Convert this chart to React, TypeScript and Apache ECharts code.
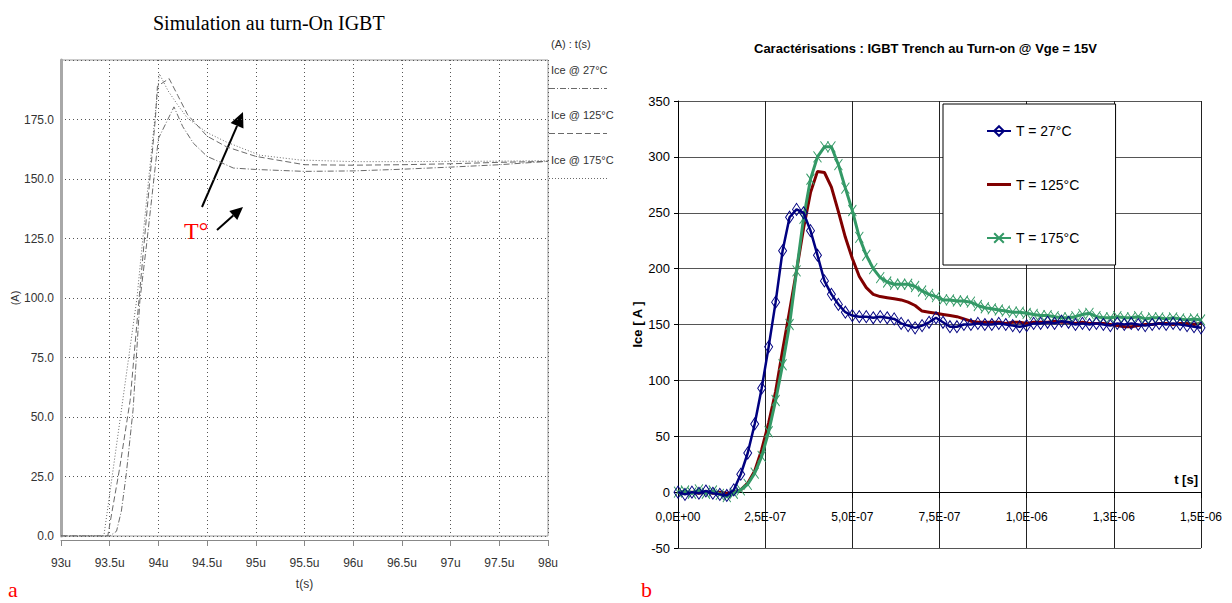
import React, { useEffect, useRef } from "react";
import * as echarts from "echarts";

// ---------- Left chart (a): simulation ----------
const simSeriesNames = ["Ice @ 27°C", "Ice @ 125°C", "Ice @ 175°C"];
const simXTicks = ["93u", "93.5u", "94u", "94.5u", "95u", "95.5u", "96u", "96.5u", "97u", "97.5u", "98u"];
const simYTicks = ["0.0", "25.0", "50.0", "75.0", "100.0", "125.0", "150.0", "175.0"];

const simT27 = [93, 93.5, 93.57, 93.62, 93.67, 93.74, 93.81, 93.88, 94.0, 94.16, 94.25, 94.36, 94.5, 94.77, 95.0, 95.5, 96.0, 96.5, 97.0, 97.5, 98.0];
const simI27 = [0, 0, 2, 10.5, 26, 53, 99, 123, 167, 180.3, 172, 165, 159.5, 154.6, 154, 153.2, 153.4, 154.1, 155, 156, 157.4];

const simT125 = [93, 93.48, 93.6, 93.71, 93.8, 93.97, 93.99, 94.11, 94.2, 94.3, 94.5, 94.7, 95.0, 95.5, 96.0, 96.5, 97.0, 97.5, 98.0];
const simI125 = [0, 0, 28, 57, 99, 176, 189, 192.2, 185, 177, 168, 163.5, 159.5, 156, 155.8, 156, 156.4, 157, 157.4];

const simT175 = [93, 93.44, 93.6, 93.78, 93.9, 94.01, 94.1, 94.2, 94.3, 94.5, 94.7, 95.04, 95.45, 96.0, 96.5, 97.0, 97.5, 98.0];
const simI175 = [0, 0, 47, 100, 150, 194.2, 187, 181, 175.5, 169.5, 165.5, 160, 158, 157.3, 157.3, 157.4, 157.5, 157.7];

// ---------- Right chart (b): measurements ----------
const mesNames = ["T = 27°C", "T = 125°C", "T = 175°C"];
const mesXTicks = ["0,0E+00", "2,5E-07", "5,0E-07", "7,5E-07", "1,0E-06", "1,3E-06", "1,5E-06"];
// time in ns
const mesTimeNs = [
  0, 20, 40, 60, 80, 100, 120, 140, 160, 180,
  200, 220, 240, 260, 280, 300, 320, 340, 360, 380,
  400, 420, 440, 460, 480, 500, 520, 540, 560, 580,
  600, 620, 640, 660, 680, 700, 720, 740, 760, 780,
  800, 820, 840, 860, 880, 900, 920, 940, 960, 980,
  1000, 1020, 1040, 1060, 1080, 1100, 1120, 1140, 1160, 1180,
  1200, 1220, 1240, 1260, 1280, 1300, 1320, 1340, 1360, 1380,
  1400, 1420, 1440, 1460, 1480, 1500,
];
const mesI27 = [
  0, -2, 0, -1, 1, -1, -2, -3, 2, 16,
  35, 61, 93, 130, 170, 216, 246, 253, 250, 234,
  212, 189, 177, 168, 161, 158, 157, 157, 156, 157,
  156, 155, 151, 149, 147, 149, 152, 156, 152, 148,
  148, 150, 150, 151, 150, 150, 151, 150, 149, 148,
  149, 151, 151, 152, 151, 153, 152, 150, 151, 150,
  151, 150, 149, 151, 150, 151, 150, 149, 150, 151,
  150, 151, 150, 149, 148, 147,
];
const mesI125 = [
  0, -1, 0, -1, 0, -1, 0, -1, 0, 2,
  8, 19, 38, 62, 90, 127, 162, 198, 236, 268,
  287, 286, 273, 251, 228, 209, 193, 183, 177, 175,
  174, 173, 172, 170, 167, 162, 161, 160, 159, 158,
  157, 155, 153, 152, 152, 152, 152, 151, 152, 152,
  151, 152, 152, 152, 153, 152, 152, 151, 152, 151,
  151, 151, 150, 149, 148, 148, 149, 150, 150, 151,
  151, 150, 151, 151, 150, 151,
];
const mesI175 = [
  0, 1, -1, 2, -1, 1, -2, -4, -1, 2,
  7, 17, 32, 54, 82, 114, 150, 198, 245, 280,
  300, 309, 309, 293, 272, 252, 228, 212, 200, 192,
  188, 186, 186, 186, 184, 180, 177, 175, 172, 172,
  171, 171, 170, 167, 165, 164, 163, 162, 161, 161,
  160, 159, 158, 158, 157, 156, 156, 157, 159, 160,
  157, 156, 156, 157, 156, 156, 157, 155, 156, 156,
  155, 156, 155, 154, 155, 154,
];

const SANS = "'Liberation Sans Narrow', 'Liberation Sans', Arial, sans-serif";
const SERIF = "'Liberation Serif', 'Times New Roman', serif";

function arrow(x1: number, y1: number, x2: number, y2: number, len: number, half: number) {
  const dx = x2 - x1;
  const dy = y2 - y1;
  const d = Math.sqrt(dx * dx + dy * dy);
  const ux = dx / d;
  const uy = dy / d;
  const bx = x2 - ux * len;
  const by = y2 - uy * len;
  return [
    { type: "line", shape: { x1, y1, x2: bx, y2: by }, style: { stroke: "#000", lineWidth: 2 } },
    {
      type: "polygon",
      shape: { points: [[x2, y2], [bx - uy * half, by + ux * half], [bx + uy * half, by - ux * half]] },
      style: { fill: "#000" },
    },
  ];
}

export default function App() {
  const ref = useRef<HTMLDivElement>(null);

  useEffect(() => {
    if (!ref.current) return;
    const chart = echarts.init(ref.current, undefined, { renderer: "svg" });

    const simLegendY = [70, 115, 160];
    const simDash = [[6, 2, 1, 2], [6, 3], [1, 2]];

    // right grid geometry
    const gTop = 101;
    const gHeight = 447;
    const yMin = -50;
    const yMax = 350;
    const zeroOffset = (gHeight * (0 - yMin)) / (yMax - yMin);

    const option: any = {
      animation: false,
      backgroundColor: "#fff",
      title: [
        {
          text: "Simulation au turn-On IGBT",
          left: 148,
          top: 8,
          textStyle: { fontFamily: SERIF, fontSize: 20, fontWeight: "normal", color: "#000" },
        },
        {
          text: "Caractérisations : IGBT Trench au Turn-on @ Vge = 15V",
          left: 749,
          top: 37,
          textStyle: { fontFamily: SANS, fontSize: 13, fontWeight: "bold", color: "#000" },
        },
      ],
      legend: {
        data: [
          { name: mesNames[0] },
          { name: mesNames[1], icon: "path://M0,0L24,0L24,3L0,3Z" },
          { name: mesNames[2] },
        ],
        orient: "vertical",
        left: 943,
        top: 104,
        itemWidth: 24,
        itemHeight: 12,
        itemGap: 39.5,
        padding: [20, 36, 20, 43],
        borderColor: "#000",
        borderWidth: 1,
        backgroundColor: "#fff",
        selectedMode: false,
        textStyle: { fontFamily: SANS, fontSize: 14, color: "#000" },
      },
      grid: [
        { left: 61, top: 60, width: 487, height: 476, show: true, borderColor: "#9a9a9a", borderWidth: 1, backgroundColor: "#fff" },
        { left: 678, top: gTop, width: 523, height: gHeight, show: false },
      ],
      xAxis: [
        {
          type: "value",
          gridIndex: 0,
          min: 93,
          max: 98,
          interval: 0.5,
          position: "bottom",
          offset: 4,
          axisLine: { show: true, onZero: false, lineStyle: { color: "#888", width: 1 } },
          axisTick: { show: true, length: 6, lineStyle: { color: "#888" } },
          axisLabel: {
            margin: 17,
            fontFamily: SANS,
            fontSize: 12,
            color: "#333",
            formatter: (v: number) => simXTicks[Math.round((v - 93) / 0.5)] ?? "",
          },
          splitLine: { show: true, lineStyle: { color: "#555", type: [1, 3], width: 1 } },
          name: "t(s)",
          nameLocation: "middle",
          nameGap: 38,
          nameTextStyle: { fontFamily: SANS, fontSize: 12, color: "#333" },
        },
        {
          type: "value",
          gridIndex: 1,
          min: 0,
          max: 1500,
          interval: 250,
          position: "bottom",
          offset: -zeroOffset,
          axisLine: { show: true, onZero: false, lineStyle: { color: "#000", width: 1 } },
          axisTick: { show: true, length: 6, lineStyle: { color: "#000" } },
          axisLabel: {
            margin: 19,
            fontFamily: SANS,
            fontSize: 12,
            color: "#000",
            formatter: (v: number) => mesXTicks[Math.round(v / 250)] ?? "",
          },
          splitLine: { show: true, lineStyle: { color: "#222", width: 1 } },
          name: "t [s]",
          nameLocation: "end",
          nameGap: -3,
          nameTextStyle: {
            fontFamily: SANS,
            fontSize: 13,
            fontWeight: "bold",
            color: "#000",
            align: "right",
            verticalAlign: "bottom",
            padding: [0, 0, 6, 0],
          },
        },
      ],
      yAxis: [
        {
          type: "value",
          gridIndex: 0,
          min: 0,
          max: 200,
          interval: 25,
          axisLine: { show: true, lineStyle: { color: "#a8a8a8", width: 3 } },
          axisTick: { show: false },
          axisLabel: {
            margin: 7,
            fontFamily: SANS,
            fontSize: 12,
            color: "#333",
            formatter: (v: number) => simYTicks[Math.round(v / 25)] ?? "",
          },
          splitLine: { show: true, lineStyle: { color: "#555", type: [1, 3], width: 1 } },
          name: "(A)",
          nameLocation: "middle",
          nameGap: 36,
          nameTextStyle: { fontFamily: SANS, fontSize: 11, color: "#333" },
        },
        {
          type: "value",
          gridIndex: 1,
          min: yMin,
          max: yMax,
          interval: 50,
          axisLine: { show: true, onZero: false, lineStyle: { color: "#000", width: 1 } },
          axisTick: { show: true, length: 4, lineStyle: { color: "#000" } },
          axisLabel: { margin: 8, fontFamily: SANS, fontSize: 13, color: "#000" },
          splitLine: { show: true, lineStyle: { color: "#555", width: 1 } },
          name: "Ice [ A ]",
          nameLocation: "middle",
          nameGap: 30,
          nameTextStyle: { fontFamily: SANS, fontSize: 13, fontWeight: "bold", color: "#000" },
        },
      ],
      series: [
        {
          name: simSeriesNames[0],
          type: "line",
          xAxisIndex: 0,
          yAxisIndex: 0,
          showSymbol: false,
          symbol: "none",
          lineStyle: { color: "#6a6a6a", width: 1, type: simDash[0] },
          data: simT27.map((t, i) => [t, simI27[i]]),
        },
        {
          name: simSeriesNames[1],
          type: "line",
          xAxisIndex: 0,
          yAxisIndex: 0,
          showSymbol: false,
          symbol: "none",
          lineStyle: { color: "#6a6a6a", width: 1, type: simDash[1] },
          data: simT125.map((t, i) => [t, simI125[i]]),
        },
        {
          name: simSeriesNames[2],
          type: "line",
          xAxisIndex: 0,
          yAxisIndex: 0,
          showSymbol: false,
          symbol: "none",
          lineStyle: { color: "#6a6a6a", width: 1, type: simDash[2] },
          data: simT175.map((t, i) => [t, simI175[i]]),
        },
        {
          name: mesNames[0],
          type: "line",
          xAxisIndex: 1,
          yAxisIndex: 1,
          z: 5,
          symbol: "path://M5,0L10,7L5,14L0,7Z",
          symbolSize: [8, 12],
          itemStyle: { color: "rgba(0,0,0,0)", borderColor: "#000080", borderWidth: 1 },
          lineStyle: { color: "#000080", width: 2.5 },
          data: mesTimeNs.map((t, i) => [t, mesI27[i]]),
        },
        {
          name: mesNames[1],
          type: "line",
          xAxisIndex: 1,
          yAxisIndex: 1,
          z: 3,
          symbol: "none",
          itemStyle: { color: "#800000" },
          lineStyle: { color: "#800000", width: 3 },
          data: mesTimeNs.map((t, i) => [t, mesI125[i]]),
        },
        {
          name: mesNames[2],
          type: "line",
          xAxisIndex: 1,
          yAxisIndex: 1,
          z: 4,
          symbol: "path://M0,0L10,14M10,0L0,14",
          symbolSize: [8, 11],
          itemStyle: { color: "rgba(0,0,0,0)", borderColor: "#339966", borderWidth: 1 },
          lineStyle: { color: "#339966", width: 3 },
          data: mesTimeNs.map((t, i) => [t, mesI175[i]]),
        },
      ],
      graphic: [
        {
          type: "text",
          x: 551,
          y: 44,
          style: { text: "(A) : t(s)", fontFamily: SANS, fontSize: 11, fill: "#333", verticalAlign: "middle" },
        },
        ...simSeriesNames.flatMap((n, i) => [
          {
            type: "text",
            x: 551,
            y: simLegendY[i],
            style: { text: n, fontFamily: SANS, fontSize: 11, fill: "#333", verticalAlign: "middle" },
          },
          {
            type: "line",
            shape: { x1: 549, y1: simLegendY[i] + 18.5, x2: 607, y2: simLegendY[i] + 18.5 },
            style: { stroke: "#6a6a6a", lineWidth: 1, lineDash: simDash[i] },
          },
        ]),
        ...arrow(202, 207, 243, 112, 15, 7),
        ...arrow(217, 230, 243, 207, 13, 6),
        {
          type: "text",
          x: 184,
          y: 231,
          style: { text: "T°", fontFamily: SERIF, fontSize: 24, fill: "#ff0000", verticalAlign: "middle" },
        },
        {
          type: "text",
          x: 8,
          y: 589,
          style: { text: "a", fontFamily: SERIF, fontSize: 22, fill: "#ff0000", verticalAlign: "middle" },
        },
        {
          type: "text",
          x: 641,
          y: 589,
          style: { text: "b", fontFamily: SERIF, fontSize: 22, fill: "#ff0000", verticalAlign: "middle" },
        },
      ],
    };

    chart.setOption(option);
    return () => chart.dispose();
  }, []);

  return (
    <div
      ref={ref}
      style={{ position: "fixed", left: 0, top: 0, width: 1232, height: 603, background: "#fff" }}
    />
  );
}
